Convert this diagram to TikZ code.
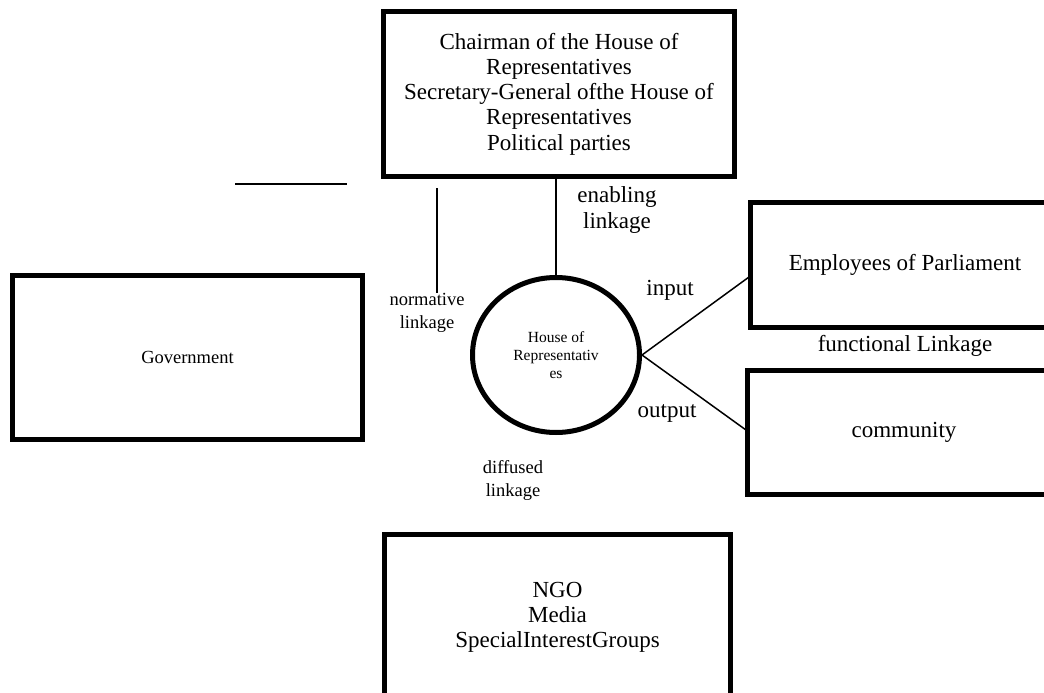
\documentclass[tikz,border=0pt]{standalone}
\usepackage{fontspec}
\setmainfont{Liberation Serif}
\usetikzlibrary{shapes.geometric}
\begin{document}
\begin{tikzpicture}[x=1pt,y=-1pt,
    box/.style={draw,line width=5pt,inner sep=0pt,align=center},
    hub/.style={draw,ellipse,line width=5pt,inner sep=0pt,align=center,
      minimum width=167pt,minimum height=155pt,font=\fontsize{15.5}{18}\selectfont},
    big/.style={font=\fontsize{23}{25.2}\selectfont},
    small/.style={font=\fontsize{18.5}{23}\selectfont},
    lbl/.style={align=center,inner sep=0pt}]
      \useasboundingbox (0,0) rectangle (1044,693);
      \clip (0,0) rectangle (1044,693);
      \draw
        (559,94) node[box,big,minimum width=351pt,minimum height=164pt] (chair)
          {Chairman of the House of\\Representatives\\Secretary-General ofthe House of\\Representatives\\Political parties}
        (187.5,357.5) node[box,small,minimum width=350pt,minimum height=164pt] (gov){Government}
        (905,265) node[box,big,minimum width=310pt,minimum height=125pt] (emp){Employees of Parliament}
        (904,432.5) node[box,big,minimum width=313pt,minimum height=124pt] (comm){community}
        (557.5,617.5) node[box,big,minimum width=346pt,minimum height=166pt] (ngo)
          {NGO\\Media\\SpecialInterestGroups}
        (556,355) node[hub] (hor){House of\\Representativ\\es};
      \coordinate (n1) at (437,188);
      \coordinate (n2) at (437,293);
      \coordinate (h1) at (235,184);
      \coordinate (h2) at (347,184);
      \coordinate (in) at (749,277);
      \coordinate (out) at (746,430);
      \begin{scope}[line width=1.5pt]
        \draw (hor.north) to (hor.north |- chair.south);
        \draw (n1) to (n2);
        \draw (h1) to (h2);
        \draw (hor.east) to (in);
        \draw (hor.east) to (out);
      \end{scope}
      \node[lbl,big] (enab) at (617,210) {enabling\\linkage};
      \node[lbl,small] (norm) at (427,313) {normative\\linkage};
      \node[lbl,big] (inp) at (670,290) {input};
      \node[lbl,big] (outp) at (667,413) {output};
      \node[lbl,big] (func) at (905,346) {functional Linkage};
      \node[lbl,small] (diff) at (513,480) {diffused\\linkage};
    \end{tikzpicture}
\end{document}
